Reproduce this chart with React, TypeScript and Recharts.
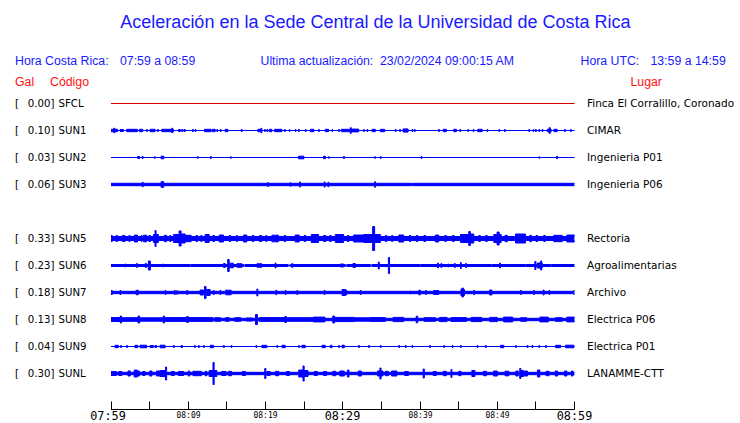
import { ComposedChart, Area, XAxis, YAxis } from 'recharts';

// estaciones en el orden del registro (SUN4 fuera de servicio: fila vacía)
const STATIONS = ['SFCL', 'SUN1', 'SUN2', 'SUN3', 'SUN4', 'SUN5', 'SUN6', 'SUN7', 'SUN8', 'SUN9', 'SUNL'];
const PEAK_GAL = [0.0, 0.1, 0.03, 0.06, null, 0.33, 0.23, 0.18, 0.13, 0.04, 0.3];
const PLACES = [
  'Finca El Corralillo, Coronado', 'CIMAR', 'Ingenieria P01', 'Ingenieria P06', '',
  'Rectoria', 'Agroalimentarias', 'Archivo', 'Electrica P06', 'Electrica P01', 'LANAMME-CTT',
];

// minutos desde 07:59
const TIME_TICKS = [0, 5, 10, 15, 20, 25, 30, 35, 40, 45, 50, 55, 60];
const TIME_LABELS = ['07:59', '', '08:09', '', '08:19', '', '08:29', '', '08:39', '', '08:49', '', '08:59'];

// amplitud de fondo de cada traza (relativa)
const BASE_AMP = [0, 0, 0, 1.2, null, 2, 1, 1.2, 1.2, 0, 1.2];

const SFCL_EVENTS: number[][] = [];
const SUN1_EVENTS = [
  [0, 0.35, 1.2], [0.35, 0.5, 2.2], [0.5, 0.86, 1.2], [1.17, 1.6, 1], [2.03, 3.41, 1.2], [3.67, 4.1, 1.2],
  [4.58, 4.7, 1], [5.05, 5.7, 1.2], [6.0, 6.13, 1], [6.57, 7.86, 1.2], [7.86, 8.0, 2.2], [8.0, 8.08, 1.2],
  [8.73, 8.98, 1], [9.16, 9.3, 1], [9.46, 9.6, 1], [10.54, 10.65, 1], [10.89, 11.0, 1], [12.1, 12.96, 1.2],
  [13.13, 13.48, 1.2], [13.7, 13.8, 1], [14.13, 14.25, 1], [14.77, 15.12, 1.2], [16.85, 16.97, 1],
  [19.0, 19.4, 1.2], [19.4, 19.53, 2.2], [19.87, 19.97, 1], [20.17, 20.28, 1], [20.48, 20.82, 1.2],
  [21.17, 22.12, 1.2], [22.46, 22.56, 1], [23.07, 23.15, 1], [23.84, 23.94, 1], [24.27, 24.37, 1],
  [25.14, 25.24, 1], [25.79, 26.26, 1.2], [26.87, 26.97, 1], [27.73, 28.16, 1.2], [28.6, 28.7, 1],
  [29.46, 29.56, 1], [29.8, 30.9, 1.2], [30.97, 31.1, 2.8], [31.1, 32.05, 1.4], [32.7, 32.8, 1],
  [33.13, 33.23, 1], [33.78, 34.21, 1.2], [34.86, 35.42, 1.2], [36.8, 36.9, 1], [37.36, 37.46, 1],
  [37.8, 38.45, 1.6], [38.96, 39.06, 1], [39.27, 39.37, 1], [42.4, 42.5, 1], [43.0, 43.41, 1.2],
  [44.36, 44.7, 1.2], [45.14, 45.24, 1], [46.18, 46.28, 1], [46.87, 46.97, 1], [47.47, 48.03, 1.2],
  [48.68, 48.78, 1], [50.2, 50.3, 1], [50.93, 51.03, 1], [54.08, 54.18, 1], [54.64, 54.74, 1],
  [54.94, 55.04, 1], [55.38, 55.48, 1], [55.81, 55.91, 1], [56.46, 56.7, 1.2], [56.7, 56.85, 2.8],
  [56.85, 56.97, 1.2], [57.32, 57.75, 1.2], [58.7, 58.8, 1], [59.48, 59.58, 1],
];
const SUN2_EVENTS = [
  [3.46, 3.72, 1], [4.06, 4.16, 1], [5.62, 5.72, 0.8], [6.48, 6.83, 1.3], [11.19, 11.29, 0.8],
  [12.87, 12.97, 1], [15.46, 15.56, 0.8], [24.28, 24.97, 1.3], [27.5, 27.75, 1.2], [28.16, 28.26, 0.8],
  [30.1, 30.2, 1], [34.12, 34.22, 0.8], [34.86, 34.96, 1], [40.13, 40.23, 1], [55.38, 55.48, 0.7],
  [57.67, 57.8, 1.2],
];
const SUN3_EVENTS = [
  [4.06, 4.16, 2.3], [6.48, 6.83, 2.8], [20.26, 20.36, 2], [23.2, 23.3, 1.8], [24.4, 24.5, 2.6],
  [27.6, 27.7, 2.6], [28.08, 28.18, 2.3], [34.12, 34.22, 2.8], [38.82, 38.92, 0.3],
];
const SUN4_EVENTS: number[][] = [];
const SUN5_EVENTS = [
  [0, 0.17, 3], [0.6, 0.9, 2.7], [1.47, 1.81, 3], [2.3, 2.5, 2.8], [3.02, 3.41, 3.5], [3.9, 4.0, 3],
  [4.19, 4.62, 3.3], [4.9, 5.1, 3], [5.49, 5.7, 4], [5.7, 5.83, 8], [5.83, 6.13, 4], [6.9, 7.2, 3.2],
  [7.6, 7.75, 3], [8.08, 8.81, 4], [8.81, 9.07, 7.5], [9.07, 9.59, 4.5], [9.59, 10.37, 3.2], [11.0, 11.2, 3],
  [11.6, 11.8, 2.8], [12.18, 12.7, 4], [13.2, 13.4, 3], [14.0, 14.56, 3.5], [15.3, 15.5, 3], [16.2, 16.4, 2.8],
  [17.15, 17.58, 3.5], [18.3, 18.5, 3], [19.2, 19.5, 3], [20.0, 20.2, 2.8], [20.82, 21.68, 3.3],
  [22.4, 22.6, 3], [23.84, 24.36, 3.5], [25.0, 25.2, 3], [25.92, 26.87, 4], [27.5, 27.8, 3], [28.3, 28.5, 3],
  [29.03, 30.1, 4], [30.6, 30.8, 3], [31.4, 32.7, 3.5], [32.7, 33.86, 4], [33.86, 34.12, 12], [34.12, 34.86, 4],
  [35.5, 35.7, 3], [36.3, 36.5, 2.8], [37.24, 37.88, 3.5], [38.6, 38.8, 3], [39.5, 39.7, 3], [40.5, 40.7, 3],
  [41.98, 42.42, 3.5], [43.2, 43.4, 3], [44.2, 44.4, 3], [45.23, 46.3, 4], [46.3, 46.5, 7], [46.5, 46.95, 4.5],
  [47.6, 47.8, 3], [48.5, 48.7, 3], [49.55, 49.97, 4], [49.97, 50.24, 6.5], [50.24, 50.5, 4], [51.0, 51.3, 3.2],
  [52.35, 53.65, 4.5], [54.2, 54.4, 3.2], [55.0, 55.2, 3], [56.0, 56.2, 3], [57.3, 58.4, 3.2], [59.0, 60, 3.5],
];
const SUN6_EVENTS = [
  [1.81, 1.91, 1.5], [3.33, 3.43, 2], [4.41, 4.62, 1.8], [4.84, 5.1, 4.5], [6.7, 6.8, 1.5], [10.24, 10.35, 0.3],
  [14.56, 14.77, 2], [15.1, 15.3, 6], [15.42, 15.85, 2.3], [16.29, 16.93, 1.8], [17.15, 17.36, 0.3],
  [18.88, 19.53, 1.7], [21.25, 21.35, 2.5], [22.9, 23.2, 0.3], [23.41, 23.51, 2], [29.68, 30.1, 1.5],
  [30.32, 30.54, 0.3], [31.32, 31.62, 2], [33.56, 33.78, 0.3], [34.6, 34.72, 3.5], [35.9, 36.05, 8],
  [40.0, 40.1, 0.3], [42.28, 42.38, 2.5], [42.7, 42.8, 2], [43.6, 43.7, 1.5], [44.45, 44.55, 2],
  [45.23, 45.33, 3], [45.9, 46.0, 2], [49.2, 49.3, 0.3], [50.3, 50.4, 2.5], [53.6, 53.7, 0.3],
  [54.85, 55.0, 4], [55.2, 55.6, 2.5], [55.6, 55.75, 4.5], [55.75, 55.8, 2.5], [56.9, 57.0, 0.3],
];
const SUN7_EVENTS = [
  [0, 0.17, 2], [1.17, 1.27, 2], [3.24, 3.54, 2.2], [7.0, 7.1, 2], [8.21, 8.31, 2], [8.5, 8.6, 1.8],
  [9.81, 9.91, 2], [11.53, 11.97, 2.5], [12.1, 12.3, 6], [12.4, 12.83, 3], [13.26, 13.36, 2], [14.1, 14.2, 2],
  [14.86, 15.55, 2.3], [18.88, 19.0, 3.5], [21.34, 21.44, 2.3], [22.55, 22.65, 2], [24.06, 24.16, 2],
  [27.6, 27.7, 2], [29.9, 30.33, 3], [30.33, 30.5, 2.5], [32.27, 32.37, 2], [38.7, 38.8, 1.5],
  [39.84, 40.04, 2.3], [40.69, 40.8, 2], [41.77, 42.42, 2], [45.3, 45.45, 3.5], [45.45, 45.6, 4.5],
  [45.6, 45.75, 3], [46.95, 47.05, 2.2], [49.0, 49.3, 2.5], [53.0, 53.1, 2], [54.7, 54.8, 2],
  [55.94, 56.05, 2.5], [56.7, 56.8, 2], [59.9, 60, 2],
];
const SUN8_EVENTS = [
  [0, 1.2, 2], [1.2, 1.35, 3.5], [1.35, 3.5, 1.8], [3.5, 3.7, 3.5], [3.7, 6.7, 1.7], [6.75, 6.9, 3.5],
  [6.9, 9.8, 1.9], [9.8, 10.0, 3], [10.0, 13.2, 1.9], [13.4, 14.2, 1.8], [14.8, 15.3, 1.8], [16.0, 16.8, 1.8],
  [17.5, 18.3, 1.6], [18.7, 18.95, 5], [19.2, 22.5, 1.9], [22.5, 22.7, 3], [22.7, 26.2, 1.8],
  [26.2, 27.7, 2.4], [28.7, 28.9, 3.5], [28.9, 31.5, 2.1], [31.5, 33.6, 1.7], [33.6, 35.5, 1.9],
  [36.5, 37.9, 2.1], [39.5, 39.7, 3.3], [40.5, 42.0, 1.8], [42.5, 43.5, 2.1], [44.0, 46.0, 1.9],
  [46.6, 48.0, 2.1], [49.0, 50.0, 2.1], [50.8, 52.0, 2.4], [53.0, 53.8, 1.8], [55.5, 56.6, 2.4],
  [57.5, 58.4, 1.8], [59.0, 60, 2.4],
];
const SUN9_EVENTS = [
  [0.52, 0.95, 1.2], [1.25, 1.35, 1], [2.03, 2.13, 1], [3.1, 3.46, 1.2], [3.76, 4.62, 1.3], [5.05, 5.49, 1],
  [5.7, 5.92, 1], [6.35, 7.0, 1.3], [8.08, 8.18, 1], [9.07, 9.25, 1], [10.8, 10.9, 1], [11.32, 11.42, 1],
  [11.97, 12.07, 1], [12.83, 13.26, 1.2], [14.56, 14.66, 1], [15.55, 15.65, 1], [18.75, 18.85, 1],
  [19.53, 20.17, 1.2], [21.47, 21.57, 1], [22.12, 22.55, 1.2], [24.28, 24.38, 1], [24.7, 25.14, 1.2],
  [27.3, 27.73, 1.2], [28.38, 28.6, 1.2], [29.46, 29.56, 1], [29.9, 30.19, 1.3], [32.05, 32.15, 1],
  [33.35, 33.45, 1], [34.86, 34.96, 1], [37.24, 37.34, 1], [38.1, 38.2, 1], [38.96, 39.06, 1],
  [41.25, 41.35, 1], [43.07, 43.17, 1], [44.15, 44.25, 1], [45.23, 45.33, 1], [47.38, 47.48, 1],
  [48.46, 48.56, 1], [50.41, 50.84, 1.2], [52.35, 52.45, 1], [53.86, 53.96, 1], [54.5, 54.6, 1],
  [55.38, 55.48, 1], [56.24, 56.34, 1], [57.54, 58.19, 1.2], [58.83, 59.92, 1.3],
];
const SUNL_EVENTS = [
  [0, 0.7, 2], [1.0, 1.4, 2], [2.2, 2.5, 2.5], [3.0, 3.4, 3.5], [3.4, 3.7, 2.5], [4.1, 4.4, 2], [5.0, 5.3, 2.5],
  [5.9, 6.35, 2.5], [6.35, 7.05, 3], [7.05, 7.2, 6.5], [7.8, 8.2, 2], [8.7, 9.4, 2], [10.0, 10.2, 2.5],
  [10.6, 11.7, 2.2], [12.2, 12.4, 2.3], [12.7, 13.2, 3], [13.2, 13.35, 11], [13.35, 13.7, 3], [14.3, 14.9, 2],
  [15.2, 15.6, 2.2], [17.0, 17.4, 2], [19.9, 20.05, 5], [20.2, 20.6, 2], [21.3, 21.7, 2.2], [22.7, 23.1, 2],
  [24.3, 24.85, 3.5], [24.85, 25.0, 7.5], [25.0, 25.5, 3], [26.3, 26.7, 2], [27.5, 27.9, 2], [28.7, 29.1, 2.2],
  [29.6, 30.2, 2.5], [30.6, 30.8, 3.5], [32.0, 32.4, 2.5], [34.5, 34.8, 2.5], [34.8, 34.95, 5.5],
  [34.95, 35.2, 2.5], [35.5, 35.9, 2.2], [36.3, 37.0, 2.5], [38.0, 38.5, 2], [40.4, 40.55, 4.5],
  [41.7, 42.1, 2], [43.0, 43.4, 2.2], [44.0, 44.12, 4], [45.0, 45.3, 2.2], [46.7, 47.1, 3], [48.2, 48.6, 2.2],
  [49.5, 50.0, 2.5], [51.0, 51.5, 2.3], [52.4, 52.7, 2.5], [52.9, 53.05, 5], [53.05, 53.4, 3],
  [53.5, 53.9, 2.5], [55.2, 55.5, 3.5], [56.3, 56.7, 2.2], [57.5, 57.8, 2.5], [58.7, 59.0, 2.5], [59.6, 59.8, 2.5],
];

const EVENTS = [
  SFCL_EVENTS, SUN1_EVENTS, SUN2_EVENTS, SUN3_EVENTS, SUN4_EVENTS, SUN5_EVENTS,
  SUN6_EVENTS, SUN7_EVENTS, SUN8_EVENTS, SUN9_EVENTS, SUNL_EVENTS,
];

const ROW_H = 27;
const rowCenter = (i: number) => 14.5 + ROW_H * i;

function buildTrace(base: number, events: number[][]) {
  const pts = [{ t: 0, v: base }];
  for (const [s, e, a] of events) {
    pts.push({ t: s, v: a });
    pts.push({ t: e, v: base });
  }
  pts.push({ t: 60, v: base });
  return pts;
}

const traces = STATIONS.map((code, i) =>
  BASE_AMP[i] === null ? null : { code, i, data: buildTrace(BASE_AMP[i] as number, EVENTS[i]) }
).filter(Boolean) as { code: string; i: number; data: { t: number; v: number }[] }[];

const rowTicks = traces.map((t) => rowCenter(t.i));
const rowIndex = (v: number) => Math.round((v - 14.5) / ROW_H);

const BLUE = '#0000ff';
const TEXT_BLUE = '#1a1aff';
const RED = '#ff1010';
const LABEL_FONT = '"DejaVu Sans", sans-serif';
const HEAD_FONT = '"Liberation Sans", Arial, sans-serif';
const MONO = '"DejaVu Sans Mono", monospace';

function LeftTick(props: any) {
  const i = rowIndex(props.payload.value);
  const y = props.y + 3.8;
  return (
    <g fontFamily={LABEL_FONT} fontSize={10.2} fill="#000">
      <text x={15} y={y}>[</text>
      <text x={54.5} y={y} textAnchor="end">{`${(PEAK_GAL[i] as number).toFixed(2)}]`}</text>
      <text x={58.5} y={y}>{STATIONS[i]}</text>
    </g>
  );
}

function RightTick(props: any) {
  const i = rowIndex(props.payload.value);
  return (
    <text x={587} y={props.y + 3.8} fontFamily={LABEL_FONT} fontSize={10.5} fill="#000">
      {PLACES[i]}
    </text>
  );
}

function TimeTick(props: any) {
  const v = props.payload.value;
  const label = TIME_LABELS[TIME_TICKS.indexOf(v)];
  const x = Math.floor(props.x) + 0.5;
  const y = props.y;
  const major = v % 30 === 0;
  return (
    <g>
      <line x1={x} y1={y - 8} x2={x} y2={y} stroke="#000" strokeWidth={1} />
      {label && (
        <text
          x={major && v === 0 ? x - 3.5 : x}
          y={major ? y + 10 : y + 8.5}
          textAnchor="middle"
          fontFamily={MONO}
          fontSize={major ? 11.8 : 8}
          fill="#000"
        >
          {label}
        </text>
      )}
    </g>
  );
}

export default function App() {
  return (
    <div style={{ position: 'absolute', left: 0, top: 0, width: 740, height: 423, background: '#fff' }}>
      <ComposedChart width={740} height={423} margin={{ top: 89, right: 0, bottom: 0, left: 0 }}>
        <XAxis
          dataKey="t"
          type="number"
          domain={[0, 60]}
          allowDataOverflow
          ticks={TIME_TICKS}
          interval={0}
          height={13.5}
          tickSize={0}
          tickMargin={0}
          tickLine={false}
          axisLine={{ stroke: '#000', strokeWidth: 1 }}
          tick={<TimeTick />}
        />
        <YAxis
          yAxisId="left"
          type="number"
          domain={[0, 320.5]}
          allowDataOverflow
          reversed
          width={111}
          ticks={rowTicks}
          interval={0}
          axisLine={false}
          tickLine={false}
          tick={<LeftTick />}
        />
        <YAxis
          yAxisId="right"
          orientation="right"
          type="number"
          domain={[0, 320.5]}
          allowDataOverflow
          reversed
          width={165.4}
          ticks={rowTicks}
          interval={0}
          axisLine={false}
          tickLine={false}
          tick={<RightTick />}
        />
        {traces.map((tr) => {
          const c = rowCenter(tr.i);
          const color = tr.code === 'SFCL' ? '#d40000' : BLUE;
          return (
            <Area
              key={tr.code}
              yAxisId="left"
              data={tr.data}
              dataKey={(d: { v: number }) => [c - d.v, c + d.v]}
              type="stepAfter"
              stroke={color}
              strokeWidth={1}
              fill={color}
              fillOpacity={1}
              dot={false}
              activeDot={false}
              isAnimationActive={false}
            />
          );
        })}
      </ComposedChart>
      <svg
        width={740}
        height={90}
        style={{ position: 'absolute', left: 0, top: 0, pointerEvents: 'none' }}
        fontFamily={HEAD_FONT}
      >
        <text x={375.5} y={28} textAnchor="middle" fontSize={18} fill={TEXT_BLUE}>
          Aceleración en la Sede Central de la Universidad de Costa Rica
        </text>
        <g fontSize={12.3} fill={TEXT_BLUE}>
          <text x={15} y={65}>Hora Costa Rica:</text>
          <text x={120} y={65}>07:59 a 08:59</text>
          <text x={260.5} y={65}>Ultima actualización:</text>
          <text x={380} y={65}>23/02/2024 09:00:15 AM</text>
          <text x={580.5} y={65}>Hora UTC:</text>
          <text x={650.5} y={65}>13:59 a 14:59</text>
        </g>
        <g fontSize={12.3} fill={RED}>
          <text x={15} y={85.5}>Gal</text>
          <text x={50} y={85.5}>Código</text>
          <text x={630.5} y={85.5}>Lugar</text>
        </g>
      </svg>
    </div>
  );
}
